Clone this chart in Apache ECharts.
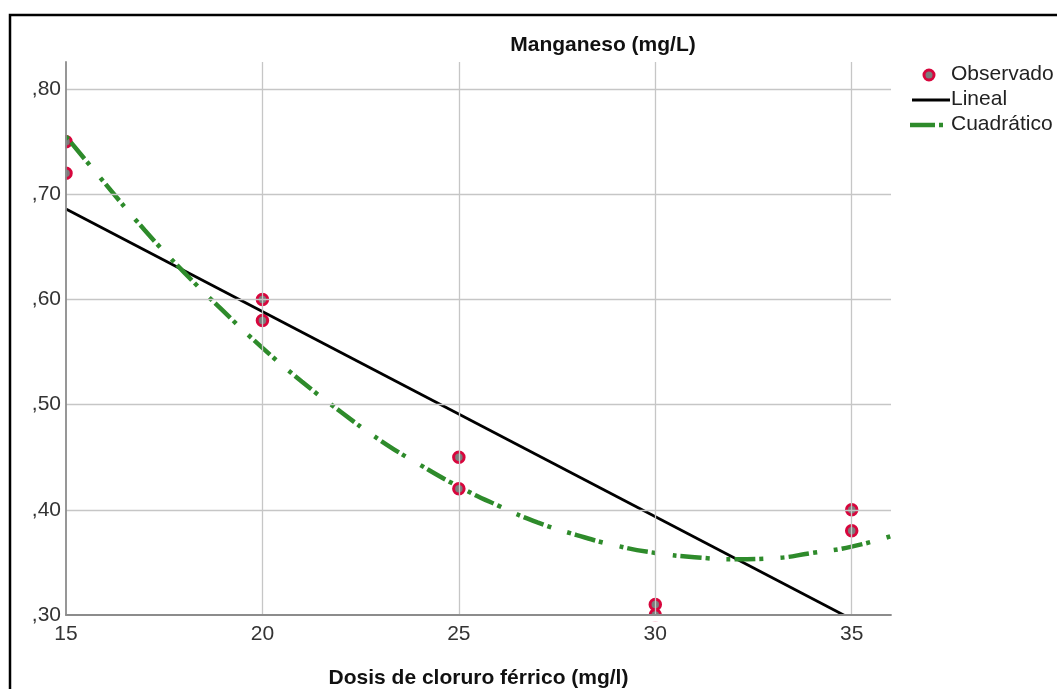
<!DOCTYPE html>
<html><head><meta charset="utf-8">
<script src="https://cdn.jsdelivr.net/npm/echarts@6/dist/echarts.min.js"></script>
<style>html,body{margin:0;padding:0;background:#fff}#c{width:1057px;height:689px}</style>
</head><body><div id="c"></div>
<script>
const obsX = [15,15,20,20,25,25,30,30,35,35];
const obsY = [0.75,0.72,0.60,0.58,0.45,0.42,0.31,0.30,0.40,0.38];
const linX = [15,35];
const linY = [0.686,0.296];
const quadX = [15,16,17,18,19,20,21,22,23,24,25,26,27,28,29,30,31,32,33,34,35,36];
const quadY = [0.755,0.710,0.666,0.626,0.589,0.554,0.522,0.493,0.466,0.443,0.422,0.404,0.388,0.376,0.366,0.359,0.355,0.353,0.354,0.359,0.365,0.375];
const xTicks = [15,20,25,30,35];
const yTicks = [0.30,0.40,0.50,0.60,0.70,0.80];
const legendNames = ['Observado','Lineal','Cuadrático'];

const font = '"Liberation Sans", Arial, sans-serif';
const zip = (a,b) => a.map((v,i)=>[v,b[i]]);
const near = (v, arr) => arr.some(t => Math.abs(t - v) < 1e-6);
const RED = '#d7063d', GRAY = '#7c7c7c', GREEN = '#2e8b2b';
const legendText = (t, y) => ({type:'text', left: 951, top: y - 11, z: 20, silent: true,
  style: {text: t, font: '21px ' + font, fill: '#222'}});

const chart = echarts.init(document.getElementById('c'), null, {renderer:'canvas'});
chart.setOption({
  animation: false,
  backgroundColor: '#fff',
  textStyle: {fontFamily: font},
  title: {
    text: 'Manganeso (mg/L)', left: 598, top: 30, textAlign: 'center',
    textStyle: {fontFamily: font, fontSize: 21, fontWeight: 'bold', color: '#111'}
  },
  graphic: [
    {type: 'rect', silent: true, z: 100,
     shape: {x: 10, y: 15, width: 1100, height: 700},
     style: {fill: 'none', stroke: '#000', lineWidth: 2.5}},
    // clip marks outside the plot area like the original
    {type: 'rect', silent: true, z: 5, shape: {x: 12, y: 50, width: 53.2, height: 580}, style: {fill: '#fff'}},
    {type: 'rect', silent: true, z: 5, shape: {x: 60, y: 615.8, width: 840, height: 6}, style: {fill: '#fff'}},
    // legend
    {type: 'circle', silent: true, z: 20, shape: {cx: 929, cy: 75, r: 5},
     style: {fill: GRAY, stroke: RED, lineWidth: 3}},
    legendText(legendNames[0], 75),
    {type: 'line', silent: true, z: 20, shape: {x1: 912, y1: 100, x2: 950, y2: 100},
     style: {stroke: '#000', lineWidth: 2.8}},
    legendText(legendNames[1], 100),
    {type: 'line', silent: true, z: 20, shape: {x1: 910, y1: 125, x2: 935, y2: 125},
     style: {stroke: GREEN, lineWidth: 4.5}},
    {type: 'line', silent: true, z: 20, shape: {x1: 939, y1: 125, x2: 943, y2: 125},
     style: {stroke: GREEN, lineWidth: 4.5}},
    legendText(legendNames[2], 125)
  ],
  grid: {left: 66, right: 166, top: 62, bottom: 74, containLabel: false, outerBoundsMode: 'none'},
  xAxis: {
    type: 'value', min: 15, max: 36, interval: 5, z: 10,
    name: 'Dosis de cloruro férrico (mg/l)', nameLocation: 'middle', nameGap: 53,
    nameTextStyle: {fontFamily: font, fontSize: 21, fontWeight: 'bold', color: '#111'},
    axisLine: {show: true, lineStyle: {color: '#8c8c8c', width: 1.8}},
    axisTick: {show: false},
    splitLine: {show: false},
    axisLabel: {fontFamily: font, fontSize: 21, color: '#333', margin: 9,
      showMaxLabel: false,
      formatter: v => near(v, xTicks) ? String(Math.round(v)) : ''}
  },
  yAxis: {
    type: 'value', min: 0.3, max: 0.8257, interval: 0.1, z: 10,
    axisLine: {show: true, lineStyle: {color: '#8c8c8c', width: 1.8}},
    axisTick: {show: false},
    splitLine: {show: false},
    axisLabel: {fontFamily: font, fontSize: 21, color: '#333', margin: 5,
      showMaxLabel: false,
      formatter: v => near(v, yTicks) ? ',' + String(Math.round(v*100)) : ''}
  },
  series: [
    {
      name: 'grid', type: 'line', data: [], silent: true, z: 1,
      markLine: {
        silent: true, symbol: 'none', animation: false,
        label: {show: false},
        lineStyle: {color: '#c6c6c6', width: 1.3, type: 'solid'},
        data: yTicks.slice(1).map(v => ({yAxis: v})).concat(xTicks.slice(1).map(v => ({xAxis: v})))
      }
    },
    {
      name: legendNames[0], type: 'scatter', data: zip(obsX, obsY), z: 2,
      symbol: 'circle', symbolSize: 10.5,
      itemStyle: {color: GRAY, borderColor: RED, borderWidth: 3, opacity: 1}
    },
    {
      name: legendNames[1], type: 'line', data: zip(linX, linY), z: 3,
      showSymbol: false, symbol: 'none',
      lineStyle: {color: '#000', width: 2.8}
    },
    {
      name: legendNames[2], type: 'line', data: zip(quadX, quadY), z: 4, smooth: true,
      showSymbol: false, symbol: 'none',
      lineStyle: {color: GREEN, width: 4.5, type: [4,4,21,4,4,17], cap: 'butt'}
    }
  ]
});
</script></body></html>
